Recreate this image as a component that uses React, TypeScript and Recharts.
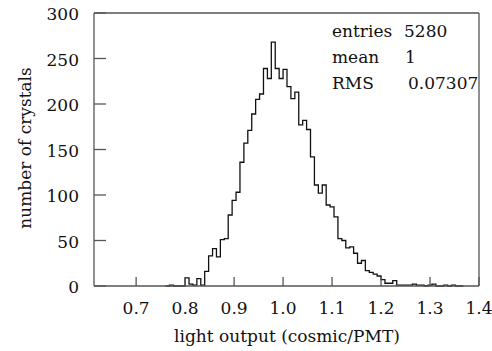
import React from 'react';
import { LineChart, Line, XAxis, YAxis, ReferenceLine } from 'recharts';

// histogram binning: bins of 0.008 starting at 0.6, counts listed from bin 20 (x = 0.76)
const BIN_LO = 0.6;
const BIN_W = 0.008;
const FIRST_BIN = 20;

const counts = [
  0, 1, 0, 0, 0, 9, 2, 1, 8, 1,
  16, 33, 41, 32, 51, 52, 78, 94, 103, 136,
  157, 171, 189, 205, 211, 239, 228, 268, 239, 228,
  238, 219, 206, 213, 177, 182, 172, 142, 111, 102,
  111, 89, 87, 76, 52, 50, 42, 43, 36, 25,
  28, 17, 15, 13, 11, 7, 3, 3, 6, 1,
  1, 1, 1, 2, 1, 1, 0, 1, 2, 0,
  0, 1, 0, 1, 0, 0,
];

const xTicks = [0.7, 0.8, 0.9, 1.0, 1.1, 1.2, 1.3, 1.4];
const yTicks = [0, 50, 100, 150, 200, 250, 300];

const statLabels = ['entries', 'mean', 'RMS'];
const statValues = ['5280', '1', '0.07307'];

const FONT = "'DejaVu Serif', serif";
const AXIS = '#555';
const txt = { fontFamily: FONT, fontSize: 17 };

// step points at bin edges, last one closes the final bin
const histData = counts.map((c, i) => ({
  x: +(BIN_LO + (FIRST_BIN + i) * BIN_W).toFixed(4),
  n: c,
}));
histData.push({
  x: +(BIN_LO + (FIRST_BIN + counts.length) * BIN_W).toFixed(4),
  n: 0,
});

const XTick = (props: any) => {
  const { x, y, payload } = props;
  return (
    <g>
      <line x1={x} y1={y} x2={x} y2={y - 9} stroke={AXIS} strokeWidth={1.3} />
      <text x={x} y={y + 16} dy="0.71em" textAnchor="middle" style={txt} fill="#111">
        {payload.value.toFixed(1)}
      </text>
    </g>
  );
};

const YTick = (props: any) => {
  const { x, y, payload } = props;
  return (
    <g>
      <line x1={x} y1={y} x2={x + 12} y2={y} stroke={AXIS} strokeWidth={1.3} />
      <text x={x - 15} y={y + 1} dy="0.36em" textAnchor="end" style={txt} fill="#111">
        {payload.value}
      </text>
    </g>
  );
};

export default function App() {
  return (
    <div style={{ position: 'fixed', left: 0, top: 0, width: 492, height: 351, background: '#fff' }}>
      <LineChart
        width={492}
        height={351}
        data={histData}
        margin={{ top: 13, right: 13, left: 0, bottom: 0 }}
      >
        <XAxis
          dataKey="x"
          type="number"
          domain={[0.614, 1.4]}
          allowDataOverflow
          ticks={xTicks}
          interval={0}
          height={65}
          tickSize={0}
          tickMargin={0}
          tickLine={false}
          axisLine={{ stroke: AXIS, strokeWidth: 1.3 }}
          tick={<XTick />}
        />
        <YAxis
          type="number"
          domain={[0, 300]}
          ticks={yTicks}
          interval={0}
          width={94}
          tickSize={0}
          tickMargin={0}
          tickLine={false}
          axisLine={{ stroke: AXIS, strokeWidth: 1.3 }}
          tick={<YTick />}
        />
        <ReferenceLine y={300} stroke={AXIS} strokeWidth={1.3} />
        <ReferenceLine x={1.4} stroke={AXIS} strokeWidth={1.3} />
        <Line
          type="stepAfter"
          dataKey="n"
          stroke="#111"
          strokeWidth={1.3}
          dot={false}
          isAnimationActive={false}
        />
      </LineChart>
      <svg
        width={492}
        height={351}
        style={{ position: 'absolute', left: 0, top: 0, pointerEvents: 'none' }}
      >
        <text transform="translate(31,148) rotate(-90)" textAnchor="middle" style={txt} fill="#111">
          number of crystals
        </text>
        <text x={287} y={342} textAnchor="middle" style={txt} fill="#111">
          light output (cosmic/PMT)
        </text>
        {statLabels.map((s, i) => (
          <text key={s} x={332} y={37 + i * 26} style={txt} fill="#111">
            {s}
          </text>
        ))}
        {statValues.map((s, i) => (
          <text key={s} x={[404, 405, 408][i]} y={37 + i * 26} style={txt} fill="#111">
            {s}
          </text>
        ))}
      </svg>
    </div>
  );
}
